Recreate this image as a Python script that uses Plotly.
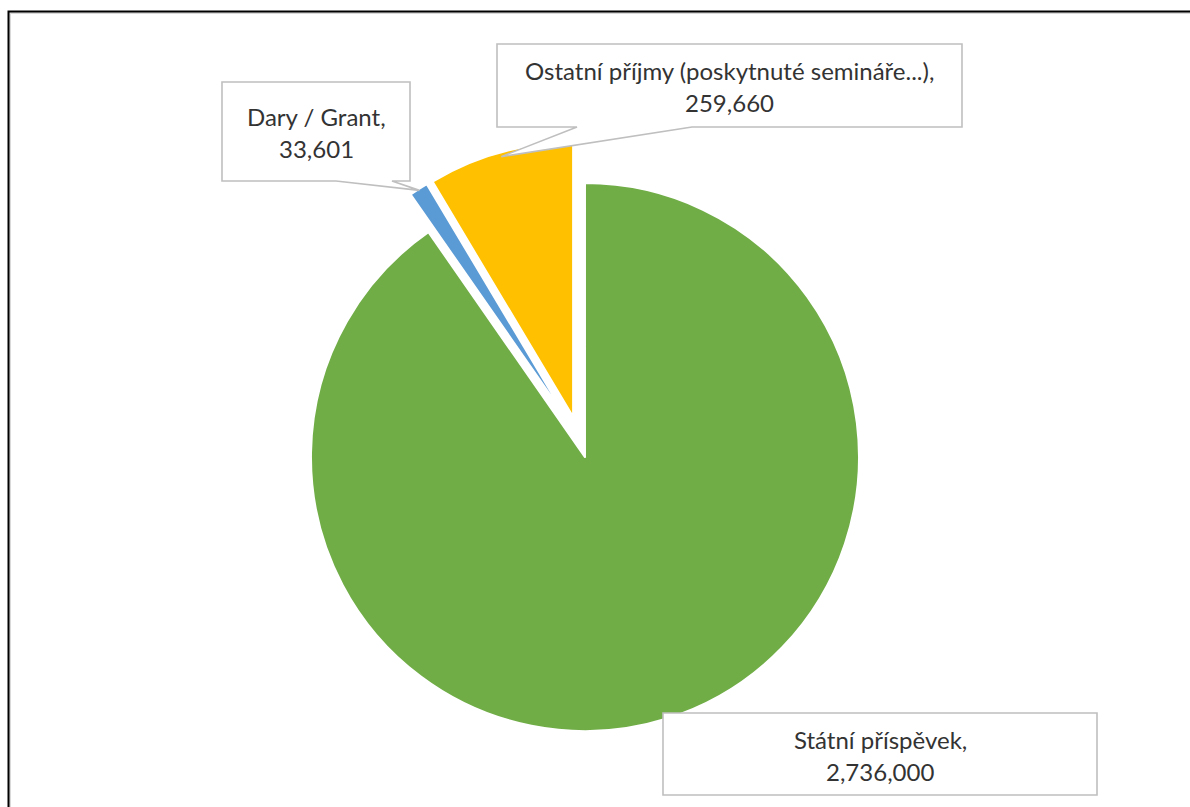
import math
import plotly.graph_objects as go

# ---- data ----
labels = ["Státní příspěvek", "Dary / Grant", "Ostatní příjmy (poskytnuté semináře...)"]
values = [2736000, 33601, 259660]
value_text = ["2,736,000", "33,601", "259,660"]
colors = ["#70AD47", "#5B9BD5", "#FFC000"]

# ---- layout constants ----
W, H = 1190, 807
PULL = 0.0766
DOM_X = [0.2342, 0.7384]
DOM_Y = [0.0929, 0.8240]
FONT = "Lato"
FS = 24
TXT = "#333333"
BORDER = "#BFBFBF"


def px(x):
    return x / W


def py(y):
    return 1 - y / H


# pie geometry as plotly computes it
box_w = W * (DOM_X[1] - DOM_X[0])
box_h = H * (DOM_Y[1] - DOM_Y[0])
R = min(box_w, box_h) / (2 + 2 * PULL)
CX = W * (DOM_X[0] + DOM_X[1]) / 2
CY = H * (1 - DOM_Y[0]) - box_h / 2
total = sum(values)


def slice_tip(i, rfrac=1.0):
    start = sum(values[:i]) / total * 2 * math.pi
    mid = start + values[i] / total * math.pi
    dx, dy = math.sin(mid), -math.cos(mid)
    ox, oy = CX + PULL * R * dx, CY + PULL * R * dy
    return ox + rfrac * R * dx, oy + rfrac * R * dy


fig = go.Figure(go.Pie(
    labels=labels,
    values=values,
    marker=dict(colors=colors, line=dict(color="white", width=2)),
    sort=False,
    direction="clockwise",
    rotation=0,
    pull=[PULL] * len(values),
    textinfo="none",
    hoverinfo="label+value",
    showlegend=False,
    domain=dict(x=DOM_X, y=DOM_Y),
))


def callout(x0, y0, x1, y1, pointer=None):
    pts = [(x0, y0), (x1, y0), (x1, y1)]
    if pointer:
        b1, b2, tip = pointer
        pts += [(b2, y1), tip, (b1, y1)]
    pts += [(x0, y1)]
    path = "M " + " L ".join(f"{px(a):.5f},{py(b):.5f}" for a, b in pts) + " Z"
    return dict(type="path", path=path, xref="paper", yref="paper",
                fillcolor="white", line=dict(color=BORDER, width=1.6), layer="above")


shapes = []
# outer frame
shapes.append(dict(type="rect", xref="paper", yref="paper",
                   x0=px(10), y0=py(13), x1=px(1230), y1=py(850),
                   line=dict(color="#D9D9D9", width=2), fillcolor="rgba(0,0,0,0)", layer="above"))
shapes.append(dict(type="rect", xref="paper", yref="paper",
                   x0=px(8.5), y0=py(11.5), x1=px(1230), y1=py(850),
                   line=dict(color="black", width=2), fillcolor="rgba(0,0,0,0)", layer="above"))

tip_dary = slice_tip(1, 0.995)
tip_ost = slice_tip(2, 0.985)

boxes = [
    (663, 713, 1097, 795, None),
    (222, 82, 410, 181, (336, 392, tip_dary)),
    (497, 44, 962, 127, (577, 692, tip_ost)),
]
for (x0, y0, x1, y1, ptr) in boxes:
    shapes.append(callout(x0, y0, x1, y1, ptr))

annotations = []
for i, (x0, y0, x1, y1, _) in enumerate(boxes):
    cx = (x0 + x1) / 2
    cy = (y0 + y1) / 2
    for line, dy in ((labels[i] + ",", -15), (value_text[i], 17)):
        annotations.append(dict(
            x=px(cx), y=py(cy + dy), xref="paper", yref="paper",
            text=line, showarrow=False, xanchor="center", yanchor="middle",
            font=dict(family=FONT, size=FS, color=TXT),
        ))

fig.update_layout(
    width=W, height=H,
    margin=dict(l=0, r=0, t=0, b=0),
    paper_bgcolor="white",
    plot_bgcolor="white",
    shapes=shapes,
    annotations=annotations,
)

fig.write_html(
    "out.html",
    config={"displayModeBar": False},
    post_script="document.body.style.margin='0';document.body.style.overflow='hidden';",
)
